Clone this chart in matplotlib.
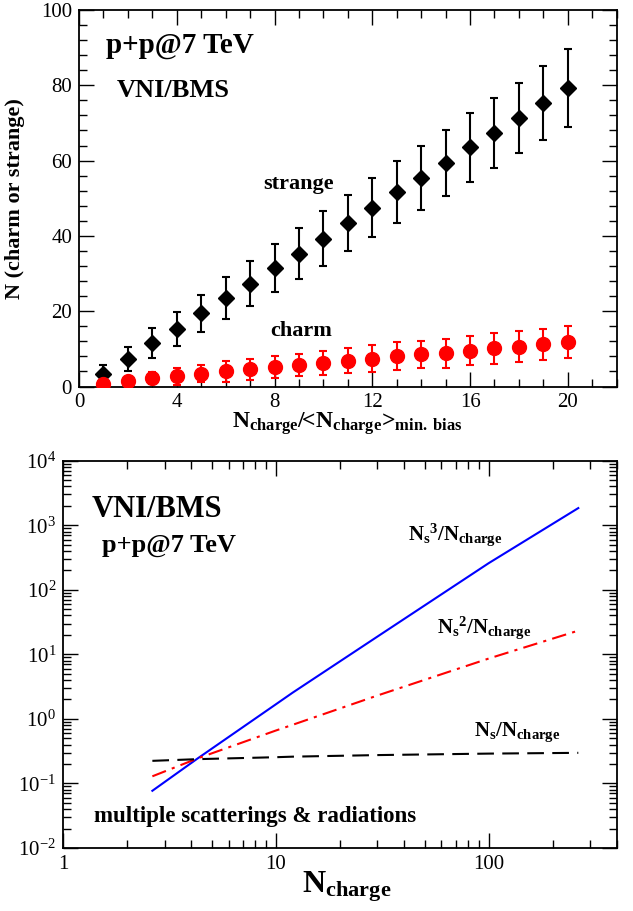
import matplotlib
matplotlib.use("Agg")
import matplotlib.pyplot as plt
from matplotlib.ticker import MultipleLocator, LogLocator, LogFormatterMathtext, NullFormatter
import numpy as np

plt.rcParams['font.family'] = ['Liberation Serif', 'DejaVu Serif']
plt.rcParams['mathtext.fontset'] = 'custom'
plt.rcParams['mathtext.rm'] = 'Liberation Serif'
plt.rcParams['mathtext.bf'] = 'Liberation Serif:bold'
plt.rcParams['mathtext.it'] = 'Liberation Serif:italic'
plt.rcParams['axes.unicode_minus'] = False

# ---------------- data: top panel ----------------
mult = [1, 2, 3, 4, 5, 6, 7, 8, 9, 10, 11, 12, 13, 14, 15, 16, 17, 18, 19, 20]
strange = [3.4, 7.3, 11.5, 15.3, 19.4, 23.5, 27.3, 31.4, 35.3, 39.3,
           43.4, 47.5, 51.6, 55.5, 59.4, 63.5, 67.4, 71.4, 75.2, 79.3]
strange_err = [2.2, 3.2, 4.0, 4.6, 5.0, 5.6, 6.0, 6.4, 6.7, 7.3,
               7.4, 7.8, 8.2, 8.5, 8.8, 9.2, 9.3, 9.3, 9.8, 10.3]
charm = [0.7, 1.5, 2.2, 2.7, 3.4, 4.0, 4.6, 5.1, 5.7, 6.3,
         6.8, 7.4, 8.1, 8.5, 8.8, 9.5, 10.2, 10.6, 11.2, 11.8]
charm_err = [0.6, 1.0, 1.6, 2.2, 2.2, 2.7, 2.8, 2.9, 3.0, 3.2,
             3.3, 3.5, 3.6, 3.7, 3.8, 3.9, 4.1, 4.2, 4.2, 4.3]

# ---------------- data: bottom panel ----------------
n_charge = [2.63, 4.3, 10, 12, 30, 100, 264]
ns_over = [0.224, 0.238, 0.255, 0.26, 0.275, 0.29, 0.298]
ns2_over = [0.129, 0.245, 0.66, 0.81, 2.3, 8.6, 23.3]
ns3_over = [0.077, 0.245, 1.68, 2.55, 18.8, 258, 1845]

W, H = 633, 911
fig = plt.figure(figsize=(W / 100, H / 100), dpi=100)


def fx(px):
    return px / W


def fy(py):
    return 1 - py / H


def style_axes(ax, major_len=11, minor_len=5.5):
    for s in ax.spines.values():
        s.set_linewidth(1.3)
    ax.tick_params(which='both', direction='in', top=True, right=True,
                   width=1.0, labelsize=15, pad=5)
    ax.tick_params(which='major', length=major_len)
    ax.tick_params(which='minor', length=minor_len)


# ---------------- top panel ----------------
ax1 = fig.add_axes([fx(79), fy(386.5), fx(616.7) - fx(79), fy(10) - fy(386.5)])
ax1.errorbar(mult, strange, yerr=strange_err, fmt='D', color='black', ms=8.5,
             elinewidth=1.5, capsize=3, capthick=1.5, zorder=3)
ax1.errorbar(mult, charm, yerr=charm_err, fmt='o', color='#ff0000', ms=10,
             elinewidth=1.5, capsize=3, capthick=1.5, zorder=3)
ax1.set_xlim(0, 22)
ax1.set_ylim(0, 100)
ax1.xaxis.set_major_locator(MultipleLocator(4))
ax1.xaxis.set_minor_locator(MultipleLocator(1))
ax1.yaxis.set_major_locator(MultipleLocator(20))
ax1.yaxis.set_minor_locator(MultipleLocator(4))
style_axes(ax1)
ax1.set_ylabel('N (charm or strange)', fontsize=16, fontweight='bold')
ax1.yaxis.set_label_coords(-(79 - 25) / (616.7 - 79), 0.5)

fig.text(fx(106), fy(53), 'p+p@7 TeV', fontsize=21, fontweight='bold', va='baseline')
fig.text(fx(117), fy(97), 'VNI/BMS', fontsize=19, fontweight='bold', va='baseline')
fig.text(fx(263), fy(189), 'strange', fontsize=16, fontweight='bold', va='baseline')
fig.text(fx(270), fy(336), 'charm', fontsize=16, fontweight='bold', va='baseline')
fig.text(fx(347), fy(428),
         r'N$_{\mathbf{charge}}$/<N$_{\mathbf{charge}}$>$_{\mathbf{min.\ bias}}$',
         fontsize=17, fontweight='bold', ha='center', va='baseline')

# ---------------- bottom panel ----------------
ax2 = fig.add_axes([fx(63), fy(848), fx(616.7) - fx(63), fy(460.7) - fy(848)])
ax2.set_xscale('log')
ax2.set_yscale('log')
ax2.plot(n_charge, ns3_over, '-', color='#0000ff', lw=1.5)
ax2.plot(n_charge, ns2_over, color='#ff0000', lw=1.5, dashes=[7, 3, 1.5, 3])
ax2.plot(n_charge, ns_over, color='black', lw=1.5, dashes=[8, 4])
ax2.set_xlim(1, 400)
ax2.set_ylim(1e-2, 1e4)
ax2.xaxis.set_major_locator(LogLocator(base=10, numticks=10))
ax2.xaxis.set_minor_locator(LogLocator(base=10, subs=np.arange(2, 10), numticks=20))
ax2.yaxis.set_major_locator(LogLocator(base=10, numticks=10))
ax2.yaxis.set_minor_locator(LogLocator(base=10, subs=np.arange(2, 10), numticks=20))
ax2.xaxis.set_minor_formatter(NullFormatter())
ax2.yaxis.set_minor_formatter(NullFormatter())
ax2.xaxis.set_major_formatter(plt.FuncFormatter(lambda v, p: f'{v:g}'))
ax2.yaxis.set_major_formatter(LogFormatterMathtext())
style_axes(ax2)

fig.text(fx(92), fy(517), 'VNI/BMS', fontsize=22, fontweight='bold', va='baseline')
fig.text(fx(102), fy(552), 'p+p@7 TeV', fontsize=19, fontweight='bold', va='baseline')
fig.text(fx(94), fy(822), 'multiple scatterings & radiations', fontsize=16.5,
         fontweight='bold', va='baseline')
fig.text(fx(408), fy(540), r'N$_{\mathbf{s}}{}^{\mathbf{3}}$/N$_{\mathbf{charge}}$',
         fontsize=15, fontweight='bold', va='baseline')
fig.text(fx(437), fy(633), r'N$_{\mathbf{s}}{}^{\mathbf{2}}$/N$_{\mathbf{charge}}$',
         fontsize=15, fontweight='bold', va='baseline')
fig.text(fx(474), fy(736), r'N$_{\mathbf{s}}$/N$_{\mathbf{charge}}$',
         fontsize=15, fontweight='bold', va='baseline')
fig.text(fx(302), fy(892), r'N$_{\mathbf{charge}}$', fontsize=23, fontweight='bold',
         va='baseline')

fig.savefig('out.png', dpi=100)
